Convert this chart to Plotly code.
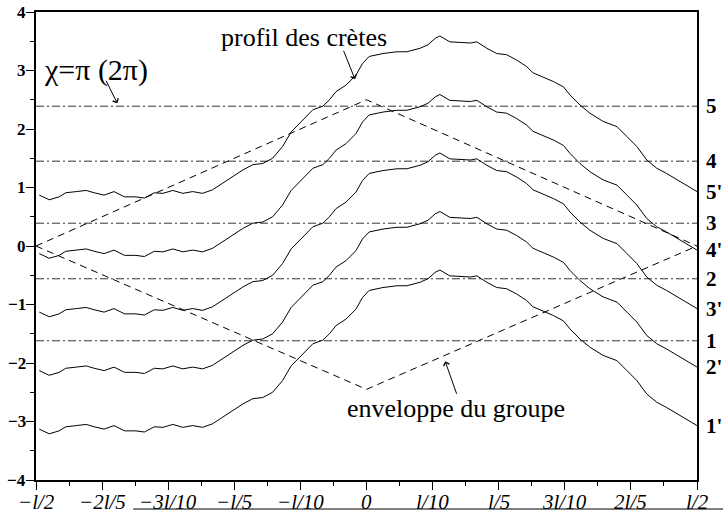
import plotly.graph_objects as go

# Horizontal position, in units of the wavelength l
x_ticks = [-0.5, -0.4, -0.3, -0.2, -0.1, 0.0, 0.1, 0.2, 0.3, 0.4, 0.5]
x_tick_labels = ["−l/2", "−2l/5", "−3l/10", "−l/5", "−l/10", "0",
                 "l/10", "l/5", "3l/10", "2l/5", "l/2"]
y_ticks = [4, 3, 2, 1, 0, -1, -2, -3, -4]
y_tick_labels = ["4", "3", "2", "1", "0", "−1", "−2", "−3", "−4"]

# Crest profile (upper crest, 5')
profile_x = [-0.495, -0.480, -0.465, -0.455, -0.439, -0.424, -0.412, -0.397, -0.382, -0.366,
             -0.349, -0.336, -0.321, -0.308, -0.293, -0.278, -0.263, -0.248, -0.233, -0.218,
             -0.202, -0.187, -0.172, -0.157, -0.142, -0.127, -0.114, -0.097, -0.081, -0.066,
             -0.056, -0.046, -0.031, -0.016, -0.006, 0.004, 0.025, 0.046, 0.061, 0.081,
             0.093, 0.104, 0.111, 0.126, 0.141, 0.157, 0.167, 0.182, 0.197, 0.212,
             0.227, 0.242, 0.252, 0.267, 0.283, 0.298, 0.308, 0.323, 0.338, 0.358,
             0.379, 0.394, 0.409, 0.424, 0.439, 0.454, 0.474, 0.489, 0.500]
profile_y = [0.87, 0.79, 0.84, 0.91, 0.93, 0.95, 0.91, 0.87, 0.93, 0.84,
             0.84, 0.82, 0.91, 0.90, 0.95, 0.90, 0.93, 0.90, 0.96, 1.07,
             1.19, 1.30, 1.39, 1.41, 1.50, 1.70, 1.95, 2.15, 2.33, 2.39,
             2.50, 2.64, 2.75, 2.92, 3.12, 3.24, 3.29, 3.32, 3.32, 3.38,
             3.44, 3.55, 3.59, 3.49, 3.48, 3.47, 3.49, 3.38, 3.29, 3.27,
             3.18, 3.07, 2.96, 2.89, 2.81, 2.72, 2.58, 2.41, 2.27, 2.13,
             2.04, 1.87, 1.70, 1.47, 1.33, 1.24, 1.10, 1.01, 0.93]

# Successive crests 5' .. 1', one period apart
crest_names = ["5'", "4'", "3'", "2'", "1'"]
crest_offsets = [0, -1, -2, -3, -4]

# Phase levels chi = pi (2pi) for crests 5 .. 1
level_names = ["5", "4", "3", "2", "1"]
level_values = [2.39, 1.45, 0.39, -0.56, -1.62]

# Group envelope (upper and lower)
env_x = [-0.5, 0.0, 0.5]
env_upper = [0.0, 2.5, 0.0]
env_lower = [0.0, -2.45, 0.0]

SERIF = "Liberation Serif"

fig = go.Figure()

for val in level_values:
    fig.add_trace(go.Scatter(x=[-0.5, 0.5], y=[val, val], mode="lines",
                             line=dict(color="#333333", width=1, dash="8px,3px,2px,3px"),
                             hoverinfo="skip", showlegend=False))

for env in (env_upper, env_lower):
    fig.add_trace(go.Scatter(x=env_x, y=env, mode="lines",
                             line=dict(color="black", width=1, dash="7px,5px"),
                             hoverinfo="skip", showlegend=False))

for name, off in zip(crest_names, crest_offsets):
    fig.add_trace(go.Scatter(x=profile_x, y=[v + off for v in profile_y], mode="lines",
                             name=name, line=dict(color="black", width=1),
                             showlegend=False))

annotations = []

# Tick labels, set close to the axes
for xv, txt in zip(x_ticks, x_tick_labels):
    annotations.append(dict(xref="x", yref="paper", x=xv, y=0, yshift=-8, text=f"<i>{txt}</i>",
                            showarrow=False, xanchor="center", yanchor="top",
                            font=dict(family=SERIF, size=21, color="black")))
for yv, txt in zip(y_ticks, y_tick_labels):
    annotations.append(dict(xref="paper", yref="y", x=0, y=yv, xshift=-8, text=f"<b>{txt}</b>",
                            showarrow=False, xanchor="right", yanchor="middle",
                            font=dict(family=SERIF, size=17, color="black")))

# Labels of levels and crests on the right
label_font = dict(family=SERIF, size=21, color="black")
for name, val in zip(level_names, level_values):
    annotations.append(dict(xref="paper", yref="y", x=1, y=val, xshift=7, text=f"<b>{name}</b>",
                            showarrow=False, xanchor="left", yanchor="middle", font=label_font))
for name, off in zip(crest_names, crest_offsets):
    annotations.append(dict(xref="paper", yref="y", x=1, y=profile_y[-1] + off, xshift=7,
                            text=f"<b>{name}</b>", showarrow=False, xanchor="left",
                            yanchor="middle", font=label_font))

text_font = dict(family=SERIF, size=26, color="black")
annotations += [
    dict(x=-0.409, y=3.01, text="χ=π (2π)", showarrow=False,
         font=dict(family=SERIF, size=30, color="black")),
    dict(x=-0.377, y=2.44, ax=-12, ay=-24, text="", showarrow=True, arrowhead=4,
         arrowsize=1.2, arrowwidth=1, arrowcolor="black"),
    dict(x=-0.095, y=3.57, text="profil des crètes", showarrow=False, font=text_font),
    dict(x=-0.0174, y=2.85, ax=-12, ay=-30, text="", showarrow=True, arrowhead=4,
         arrowsize=1.2, arrowwidth=1, arrowcolor="black"),
    dict(x=0.135, y=-2.77, text="enveloppe du groupe", showarrow=False, font=text_font),
    dict(x=0.119, y=-1.97, ax=12, ay=34, text="", showarrow=True, arrowhead=4,
         arrowsize=1.2, arrowwidth=1, arrowcolor="black"),
]

fig.update_layout(
    width=723, height=514,
    margin=dict(l=36, r=26, t=12, b=34),
    paper_bgcolor="white", plot_bgcolor="white",
    annotations=annotations,
    shapes=[dict(type="line", xref="paper", yref="paper", x0=0.147, x1=1.04,
                 y0=-0.062, y1=-0.062, line=dict(color="black", width=1))],
)
fig.update_xaxes(range=[-0.5, 0.5], tickvals=x_ticks, showticklabels=False,
                 ticks="outside", ticklen=8, tickwidth=1, tickcolor="black",
                 minor=dict(dtick=0.05, ticks="outside", ticklen=4, tickwidth=1, tickcolor="black"),
                 showline=True, linecolor="black", linewidth=2, mirror=True,
                 showgrid=False, zeroline=False, automargin=False)
fig.update_yaxes(range=[-4, 4], tickvals=y_ticks, showticklabels=False,
                 ticks="outside", ticklen=8, tickwidth=1, tickcolor="black",
                 minor=dict(dtick=0.5, ticks="outside", ticklen=4, tickwidth=1, tickcolor="black"),
                 showline=True, linecolor="black", linewidth=2, mirror=True,
                 showgrid=False, zeroline=False, automargin=False)

fig.write_html("out.html")
